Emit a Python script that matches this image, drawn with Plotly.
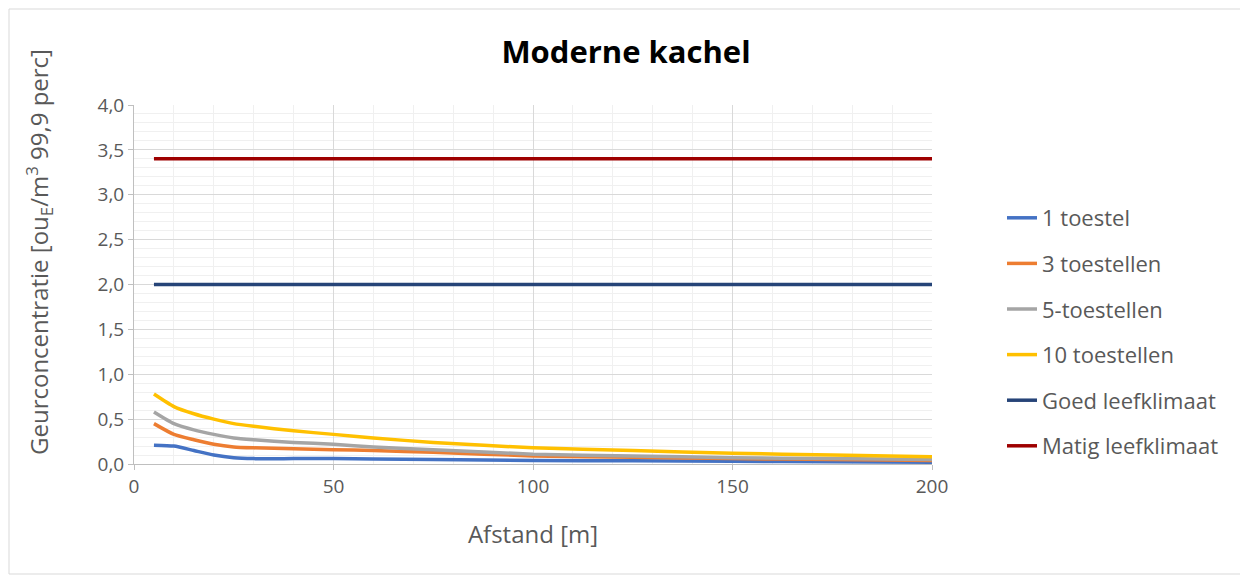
import plotly.graph_objects as go

x = [5, 10, 15, 20, 25, 30, 40, 50, 60, 75, 100, 125, 150, 175, 200]
s1 = [0.21, 0.20, 0.15, 0.10, 0.07, 0.06, 0.06, 0.06, 0.055, 0.05, 0.04, 0.035, 0.03, 0.025, 0.02]
s3 = [0.45, 0.33, 0.27, 0.22, 0.19, 0.18, 0.17, 0.16, 0.15, 0.13, 0.09, 0.075, 0.06, 0.05, 0.04]
s5 = [0.58, 0.45, 0.38, 0.33, 0.29, 0.27, 0.24, 0.22, 0.19, 0.16, 0.11, 0.09, 0.07, 0.06, 0.05]
s10 = [0.78, 0.64, 0.56, 0.50, 0.45, 0.42, 0.37, 0.33, 0.29, 0.24, 0.18, 0.15, 0.12, 0.10, 0.08]
goed = [2.0] * len(x)
matig = [3.4] * len(x)

names = ["1 toestel", "3 toestellen", "5-toestellen", "10 toestellen", "Goed leefklimaat", "Matig leefklimaat"]
colors = ["#4472C4", "#ED7D31", "#A5A5A5", "#FFC000", "#264478", "#9E0000"]
series = [s1, s3, s5, s10, goed, matig]

fig = go.Figure()
for i, (n, c, s) in enumerate(zip(names, colors, series)):
    fig.add_trace(go.Scatter(x=x, y=s, name=n, mode="lines", legendgroup=f"g{i}",
                             line=dict(color=c, width=3.5, shape="spline", smoothing=0.6)))

# page offset of 8px (body margin) compensated in margins
OFF = 8
PL, PR, PT, PB = 134, 932, 105, 464  # plot area in page pixels
W, H = 1248, 579
font_fam = "Open Sans, Lato, sans-serif"
grid_minor = "#F0F0F0"


def px_x(p):
    return (p - PL) / (PR - PL)


def px_y(p):
    return (PB - p) / (PB - PT)


fig.update_layout(
    width=W, height=H,
    paper_bgcolor="white", plot_bgcolor="white",
    separators=",.",
    margin=dict(l=PL - OFF, r=W + OFF - PR, t=PT - OFF, b=H + OFF - PB),
    title=dict(text="<b>Moderne kachel</b>", x=(626 - OFF) / W, xanchor="center",
               y=1 - (52 - OFF) / H, yanchor="middle",
               font=dict(family=font_fam, size=31, color="#000000")),
    font=dict(family=font_fam, color="#595959", size=20),
    legend=dict(x=px_x(1002), y=px_y(197), xanchor="left", yanchor="top",
                font=dict(size=22, color="#595959"), tracegroupgap=14,
                bgcolor="rgba(0,0,0,0)"),
    showlegend=True,
)
fig.update_xaxes(
    range=[0, 200], dtick=50, tickformat="d",
    showgrid=True, gridcolor="#D9D9D9", gridwidth=1,
    minor=dict(dtick=10, showgrid=True, gridcolor=grid_minor, gridwidth=1),
    showline=True, linecolor="#BFBFBF", linewidth=1,
    ticks="outside", ticklen=5, tickcolor="#BFBFBF",
    zeroline=False,
    tickfont=dict(size=19, color="#595959"),
    title=dict(text="Afstand [m]", font=dict(size=24, color="#595959"), standoff=28),
)
fig.update_yaxes(
    range=[0, 4.0], dtick=0.5, tickformat=".1f",
    showgrid=True, gridcolor="#D9D9D9", gridwidth=1,
    minor=dict(dtick=0.1, showgrid=True, gridcolor=grid_minor, gridwidth=1),
    showline=True, linecolor="#BFBFBF", linewidth=1,
    ticks="outside", ticklen=5, tickcolor="#BFBFBF",
    zeroline=False,
    tickfont=dict(size=19, color="#595959"),
)
fig.add_annotation(text="Geurconcentratie [ou<sub>E</sub>/m<sup>3</sup> 99,9 perc]",
                   xref="paper", yref="paper", x=px_x(39), y=px_y(252),
                   xanchor="center", yanchor="middle", textangle=-90, showarrow=False,
                   font=dict(size=24, color="#595959", family=font_fam))
fig.add_shape(type="rect", xref="paper", yref="paper",
              x0=px_x(9), x1=px_x(1245),
              y0=px_y(574), y1=px_y(9),
              line=dict(color="#D9D9D9", width=1), fillcolor="rgba(0,0,0,0)", layer="below")

fig.write_html("out.html")
